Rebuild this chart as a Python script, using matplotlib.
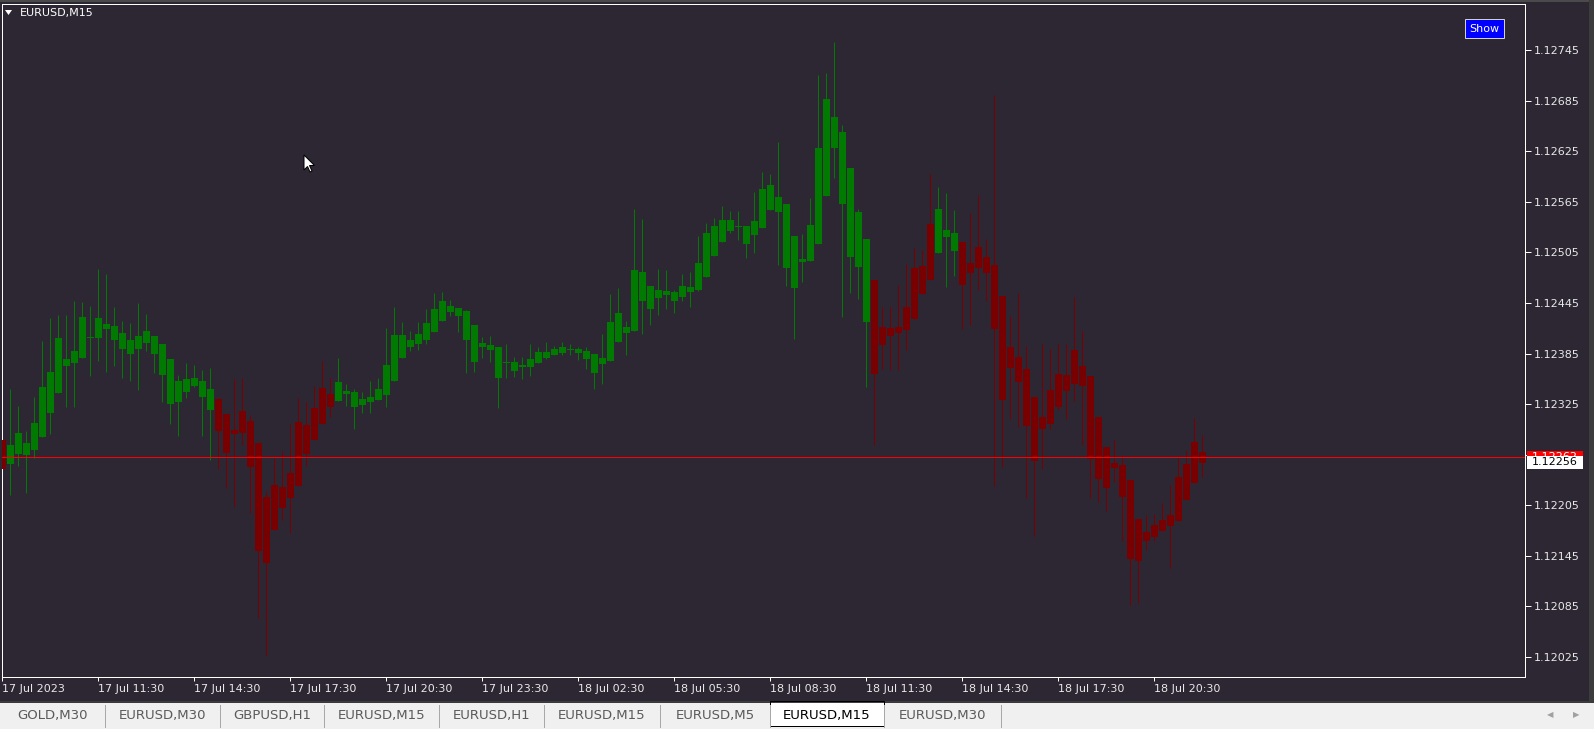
import numpy as np
import matplotlib.pyplot as plt
from matplotlib.patches import Rectangle, Polygon

# EURUSD M15 candles from 17 Jul 2023 08:30
# bodies stored as top / bottom, colour comes from the trend filter (1 = green, 0 = red)
high = [1.12286, 1.12343, 1.12323, 1.12293, 1.12334, 1.12400, 1.12427, 1.12431, 1.12431, 1.12447,
        1.12446, 1.12442, 1.12485, 1.12479, 1.12440, 1.12424, 1.12421, 1.12445, 1.12432, 1.12406,
        1.12396, 1.12378, 1.12360, 1.12374, 1.12371, 1.12366, 1.12368, 1.12332, 1.12313, 1.12355,
        1.12356, 1.12312, 1.12279, 1.12222, 1.12261, 1.12269, 1.12301, 1.12332, 1.12327, 1.12346,
        1.12376, 1.12356, 1.12380, 1.12349, 1.12343, 1.12339, 1.12352, 1.12356, 1.12415, 1.12440,
        1.12422, 1.12412, 1.12422, 1.12438, 1.12457, 1.12458, 1.12449, 1.12439, 1.12437, 1.12419,
        1.12405, 1.12406, 1.12393, 1.12396, 1.12381, 1.12381, 1.12396, 1.12393, 1.12399, 1.12394,
        1.12399, 1.12396, 1.12393, 1.12393, 1.12384, 1.12408, 1.12456, 1.12463, 1.12424, 1.12557,
        1.12545, 1.12465, 1.12485, 1.12484, 1.12460, 1.12479, 1.12482, 1.12524, 1.12540, 1.12546,
        1.12560, 1.12554, 1.12554, 1.12537, 1.12577, 1.12600, 1.12598, 1.12636, 1.12562, 1.12524,
        1.12527, 1.12570, 1.12716, 1.12718, 1.12755, 1.12656, 1.12605, 1.12557, 1.12521, 1.12472,
        1.12440, 1.12440, 1.12466, 1.12491, 1.12510, 1.12508, 1.12598, 1.12583, 1.12576, 1.12555,
        1.12517, 1.12552, 1.12573, 1.12521, 1.12692, 1.12453, 1.12429, 1.12457, 1.12394, 1.12333,
        1.12396, 1.12390, 1.12396, 1.12396, 1.12452, 1.12412, 1.12358, 1.12310, 1.12274, 1.12282,
        1.12263, 1.12235, 1.12188, 1.12193, 1.12194, 1.12207, 1.12229, 1.12262, 1.12270, 1.12308,
        1.12288]
body_top = [1.12282, 1.12277, 1.12291, 1.12279, 1.12302, 1.12345, 1.12363, 1.12403, 1.12378, 1.12388,
            1.12428, 1.12405, 1.12427, 1.12420, 1.12418, 1.12409, 1.12401, 1.12406, 1.12412, 1.12406,
            1.12396, 1.12378, 1.12352, 1.12355, 1.12356, 1.12352, 1.12343, 1.12331, 1.12313, 1.12294,
            1.12317, 1.12305, 1.12279, 1.12215, 1.12229, 1.12226, 1.12243, 1.12304, 1.12300, 1.12320,
            1.12344, 1.12337, 1.12351, 1.12340, 1.12339, 1.12331, 1.12334, 1.12343, 1.12372, 1.12407,
            1.12407, 1.12401, 1.12408, 1.12421, 1.12438, 1.12447, 1.12441, 1.12439, 1.12436, 1.12419,
            1.12398, 1.12395, 1.12393, 1.12375, 1.12375, 1.12371, 1.12378, 1.12387, 1.12387, 1.12390,
            1.12393, 1.12390, 1.12390, 1.12388, 1.12384, 1.12380, 1.12422, 1.12433, 1.12416, 1.12484,
            1.12482, 1.12465, 1.12460, 1.12459, 1.12458, 1.12465, 1.12464, 1.12492, 1.12528, 1.12536,
            1.12543, 1.12543, 1.12537, 1.12537, 1.12542, 1.12580, 1.12585, 1.12571, 1.12562, 1.12524,
            1.12497, 1.12538, 1.12629, 1.12687, 1.12666, 1.12648, 1.12605, 1.12553, 1.12521, 1.12472,
            1.12416, 1.12415, 1.12416, 1.12440, 1.12486, 1.12489, 1.12539, 1.12557, 1.12532, 1.12528,
            1.12517, 1.12492, 1.12511, 1.12500, 1.12490, 1.12453, 1.12393, 1.12381, 1.12367, 1.12333,
            1.12310, 1.12342, 1.12361, 1.12359, 1.12389, 1.12370, 1.12358, 1.12310, 1.12274, 1.12255,
            1.12253, 1.12235, 1.12188, 1.12173, 1.12181, 1.12187, 1.12193, 1.12238, 1.12254, 1.12280,
            1.12268]
body_bot = [1.12248, 1.12254, 1.12266, 1.12264, 1.12271, 1.12286, 1.12315, 1.12338, 1.12370, 1.12374,
            1.12380, 1.12404, 1.12403, 1.12414, 1.12401, 1.12390, 1.12384, 1.12391, 1.12398, 1.12385,
            1.12360, 1.12325, 1.12327, 1.12339, 1.12346, 1.12333, 1.12318, 1.12293, 1.12267, 1.12290,
            1.12291, 1.12250, 1.12150, 1.12136, 1.12175, 1.12202, 1.12213, 1.12228, 1.12266, 1.12282,
            1.12301, 1.12321, 1.12329, 1.12337, 1.12321, 1.12324, 1.12327, 1.12330, 1.12336, 1.12353,
            1.12380, 1.12393, 1.12396, 1.12401, 1.12411, 1.12424, 1.12434, 1.12430, 1.12401, 1.12375,
            1.12393, 1.12389, 1.12356, 1.12374, 1.12364, 1.12369, 1.12369, 1.12374, 1.12380, 1.12383,
            1.12386, 1.12389, 1.12386, 1.12378, 1.12362, 1.12373, 1.12376, 1.12399, 1.12409, 1.12412,
            1.12447, 1.12438, 1.12451, 1.12454, 1.12447, 1.12452, 1.12458, 1.12460, 1.12476, 1.12501,
            1.12518, 1.12530, 1.12535, 1.12515, 1.12526, 1.12534, 1.12556, 1.12553, 1.12486, 1.12463,
            1.12494, 1.12495, 1.12515, 1.12572, 1.12629, 1.12562, 1.12500, 1.12488, 1.12422, 1.12361,
            1.12395, 1.12406, 1.12409, 1.12413, 1.12426, 1.12456, 1.12472, 1.12504, 1.12523, 1.12507,
            1.12466, 1.12481, 1.12487, 1.12481, 1.12414, 1.12330, 1.12368, 1.12351, 1.12299, 1.12257,
            1.12295, 1.12301, 1.12321, 1.12340, 1.12349, 1.12346, 1.12260, 1.12236, 1.12225, 1.12249,
            1.12215, 1.12141, 1.12139, 1.12162, 1.12167, 1.12174, 1.12180, 1.12186, 1.12211, 1.12231,
            1.12255]
low = [1.12225, 1.12217, 1.12252, 1.12220, 1.12261, 1.12286, 1.12290, 1.12338, 1.12321, 1.12322,
       1.12380, 1.12358, 1.12376, 1.12363, 1.12370, 1.12356, 1.12352, 1.12342, 1.12388, 1.12362,
       1.12327, 1.12301, 1.12287, 1.12332, 1.12345, 1.12287, 1.12259, 1.12248, 1.12225, 1.12203,
       1.12276, 1.12196, 1.12071, 1.12027, 1.12175, 1.12187, 1.12172, 1.12228, 1.12251, 1.12282,
       1.12301, 1.12310, 1.12329, 1.12323, 1.12295, 1.12315, 1.12315, 1.12330, 1.12321, 1.12353,
       1.12380, 1.12388, 1.12389, 1.12396, 1.12411, 1.12424, 1.12430, 1.12411, 1.12362, 1.12363,
       1.12380, 1.12375, 1.12320, 1.12356, 1.12357, 1.12355, 1.12358, 1.12374, 1.12378, 1.12383,
       1.12383, 1.12383, 1.12377, 1.12367, 1.12343, 1.12349, 1.12376, 1.12399, 1.12383, 1.12412,
       1.12408, 1.12419, 1.12431, 1.12438, 1.12433, 1.12447, 1.12440, 1.12459, 1.12476, 1.12501,
       1.12518, 1.12528, 1.12520, 1.12499, 1.12504, 1.12534, 1.12556, 1.12490, 1.12465, 1.12402,
       1.12470, 1.12495, 1.12515, 1.12572, 1.12593, 1.12428, 1.12457, 1.12450, 1.12345, 1.12276,
       1.12367, 1.12365, 1.12365, 1.12389, 1.12426, 1.12456, 1.12472, 1.12504, 1.12464, 1.12477,
       1.12414, 1.12419, 1.12460, 1.12447, 1.12228, 1.12250, 1.12307, 1.12298, 1.12213, 1.12168,
       1.12248, 1.12296, 1.12318, 1.12307, 1.12329, 1.12277, 1.12213, 1.12209, 1.12198, 1.12233,
       1.12162, 1.12086, 1.12089, 1.12152, 1.12162, 1.12174, 1.12131, 1.12186, 1.12211, 1.12231,
       1.12238]
trend = [0, 1, 1, 1, 1, 1, 1, 1, 1, 1, 1, 1, 1, 1, 1, 1, 1, 1, 1, 1, 1, 1, 1, 1, 1,
         1, 1, 0, 0, 0, 0, 0, 0, 0, 0, 0, 0, 0, 0, 0, 0, 0, 1, 1, 1, 1, 1, 1, 1, 1,
         1, 1, 1, 1, 1, 1, 1, 1, 1, 1, 1, 1, 1, 1, 1, 1, 1, 1, 1, 1, 1, 1, 1, 1, 1,
         1, 1, 1, 1, 1, 1, 1, 1, 1, 1, 1, 1, 1, 1, 1, 1, 1, 1, 1, 1, 1, 1, 1, 1, 1,
         1, 1, 1, 1, 1, 1, 1, 1, 1, 0, 0, 0, 0, 0, 0, 0, 0, 1, 1, 1, 0, 0, 0, 0, 0,
         0, 0, 0, 0, 0, 0, 0, 0, 0, 0, 0, 0, 0, 0, 0, 0, 0, 0, 0, 0, 0, 0, 0, 0, 0,
         0]

bid_price = 1.12262
line_price = 1.12256

price_ticks = [1.12025, 1.12085, 1.12145, 1.12205, 1.12265, 1.12325, 1.12385,
               1.12445, 1.12505, 1.12565, 1.12625, 1.12685, 1.12745]
# 1.12265 is hidden under the price labels, so it gets no text
price_tick_labels = ['1.12025', '1.12085', '1.12145', '1.12205', '', '1.12325', '1.12385',
                     '1.12445', '1.12505', '1.12565', '1.12625', '1.12685', '1.12745']
time_tick_idx = [0, 12, 24, 36, 48, 60, 72, 84, 96, 108, 120, 132, 144]
time_labels = ['17 Jul 2023', '17 Jul 11:30', '17 Jul 14:30', '17 Jul 17:30', '17 Jul 20:30',
               '17 Jul 23:30', '18 Jul 02:30', '18 Jul 05:30', '18 Jul 08:30', '18 Jul 11:30',
               '18 Jul 14:30', '18 Jul 17:30', '18 Jul 20:30']
tabs = ['GOLD,M30', 'EURUSD,M30', 'GBPUSD,H1', 'EURUSD,M15', 'EURUSD,H1',
        'EURUSD,M15', 'EURUSD,M5', 'EURUSD,M15', 'EURUSD,M30']
active_tab = 7

BG = '#2c2732'
GREEN = '#007a00'
RED = '#780000'
TXT = '#e8e8e8'
PX = 0.72  # one pixel in points at dpi 100

W, H = 1594, 729
fig = plt.figure(figsize=(W / 100, H / 100), dpi=100)
fig.patch.set_facecolor(BG)

# chart frame in pixels
fl, fr, ft, fb = 2, 1525, 4, 677
ax = fig.add_axes([fl / W, (H - fb) / H, (fr - fl) / W, (fb - ft) / H])
ax.set_facecolor(BG)

x = np.arange(len(high))
top = np.array(body_top)
bot = np.array(body_bot)
cols = [GREEN if t else RED for t in trend]

ax.vlines(x, low, high, colors=cols, linewidth=PX, zorder=2)
heights = np.maximum(top - bot, 0.000012)
ax.bar(x, heights, bottom=bot, width=0.82, color=cols, linewidth=0, zorder=3)

ax.axhline(bid_price, color='#ff0000', linewidth=PX, zorder=4)

ax.set_xlim(-0.04, 190.33)
ax.set_ylim(1.12001, 1.12800)

for s in ax.spines.values():
    s.set_color('white')
    s.set_linewidth(PX)

ax.yaxis.tick_right()
ax.set_yticks(price_ticks)
ax.set_yticklabels(price_tick_labels)
ax.tick_params(axis='y', direction='out', length=4, width=PX, colors='white',
               labelcolor=TXT, labelsize=8, pad=2)
ax.set_xticks(time_tick_idx)
ax.set_xticklabels(time_labels, ha='left')
ax.tick_params(axis='x', direction='out', length=3, width=PX, colors='white',
               labelcolor=TXT, labelsize=8, pad=2)
for lab in ax.get_xticklabels():
    lab.set_fontfamily('DejaVu Sans')

# price labels on the right scale
tr = ax.get_yaxis_transform()
lab_h = 13 / 84240
ax.add_patch(Rectangle((1.0013, bid_price - lab_h / 2), 0.0368, lab_h, transform=tr,
                       facecolor='#ff0000', edgecolor='none', clip_on=False, zorder=6))
ax.text(1.0046, bid_price, '1.12262', transform=tr, color='white', fontsize=8,
        va='center', ha='left', clip_on=False, zorder=7)
ax.add_patch(Rectangle((1.0013, line_price - lab_h / 2), 0.0368, lab_h, transform=tr,
                       facecolor='white', edgecolor='none', clip_on=False, zorder=8))
ax.text(1.0046, line_price, '1.12256', transform=tr, color='black', fontsize=8,
        va='center', ha='left', clip_on=False, zorder=9)

# overlay for the terminal window bits
ov = fig.add_axes([0, 0, 1, 1], zorder=10)
ov.set_xlim(0, W)
ov.set_ylim(H, 0)
ov.axis('off')
ov.patch.set_alpha(0)

ov.add_patch(Rectangle((0, 0), W, 2, facecolor='#4a4a4a', edgecolor='none'))
ov.add_patch(Rectangle((1589, 0), 5, 701, facecolor='#3c3c3c', edgecolor='none'))

# title
ov.add_patch(Polygon([[5, 10], [12, 10], [8.5, 15]], closed=True, facecolor='white', edgecolor='none'))
ov.text(20, 13, 'EURUSD,M15', color='white', fontsize=8, va='center', ha='left')

# Show button
ov.add_patch(Rectangle((1465, 19), 39, 19, facecolor='#0000ff', edgecolor='#d0d0d0', linewidth=PX))
ov.text(1484.5, 28.5, 'Show', color='white', fontsize=8, va='center', ha='center')

# mouse cursor
arrow = np.array([[0, 0], [0, 15], [3.5, 11.5], [6, 17], [8, 16], [5.5, 10.5], [10.5, 10.5]])
ov.add_patch(Polygon(arrow + [304, 155], closed=True, facecolor='white', edgecolor='black', linewidth=PX))

# tab bar
ov.add_patch(Rectangle((0, 701), W, 28, facecolor='#f0f0f0', edgecolor='none'))
ov.plot([0, W], [701.5, 701.5], color='black', linewidth=1.5 * PX)
seps = [0, 105, 220, 324, 439, 544, 660, 770, 884, 1001]
for s in seps[1:]:
    ov.plot([s, s], [705, 727], color='#a8a8a8', linewidth=PX)
a0, a1 = seps[active_tab], seps[active_tab + 1]
ov.add_patch(Rectangle((a0, 701), a1 - a0, 25, facecolor='white', edgecolor='black', linewidth=PX))
for k, name in enumerate(tabs):
    cx = (seps[k] + seps[k + 1]) / 2
    ov.text(cx, 716, name, fontsize=9.5, va='center', ha='center',
            color='black' if k == active_tab else '#5a5a5a')
ov.text(1550, 715, '\u25c0', fontsize=6, color='#a0a0a0', va='center', ha='center')
ov.text(1576, 715, '\u25b6', fontsize=6, color='#a0a0a0', va='center', ha='center')

fig.savefig('out.png', dpi=100, facecolor=fig.get_facecolor())
